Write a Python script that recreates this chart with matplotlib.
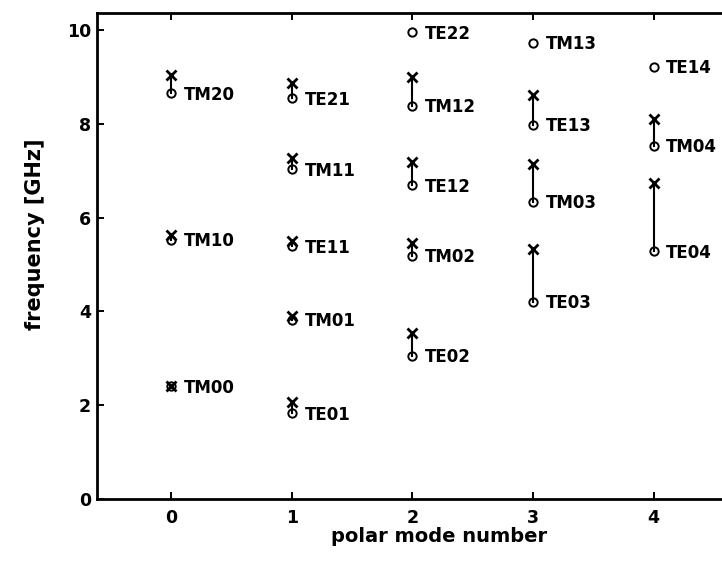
import numpy as np
import matplotlib.pyplot as plt

plt.rcParams['font.family'] = ['DejaVu Sans']
plt.rcParams['font.weight'] = 'bold'
plt.rcParams['axes.labelweight'] = 'bold'

# polar mode number, mode name, upper value (x marker), lower value (o marker)
polar = [0, 0, 0,
         1, 1, 1, 1, 1,
         2, 2, 2, 2, 2,
         3, 3, 3, 3,
         4, 4, 4]
modes = ['TM00', 'TM10', 'TM20',
         'TE01', 'TM01', 'TE11', 'TM11', 'TE21',
         'TE02', 'TM02', 'TE12', 'TM12', 'TE22',
         'TE03', 'TM03', 'TE13', 'TM13',
         'TE04', 'TM04', 'TE14']
f_cross = [2.40, 5.63, 9.03,
           2.07, 3.90, 5.51, 7.28, 8.88,
           3.54, 5.46, 7.19, 8.99, np.nan,
           5.33, 7.14, 8.61, np.nan,
           6.74, 8.11, np.nan]
f_circle = [2.40, 5.53, 8.65,
            1.83, 3.82, 5.39, 7.03, 8.54,
            3.05, 5.18, 6.69, 8.38, 9.95,
            4.20, 6.34, 7.98, 9.73,
            5.28, 7.53, 9.22]

fig = plt.figure(figsize=(7.22, 5.70), dpi=100)
ax = fig.add_axes([0.134, 0.1246, 0.888, 0.8524])

for n, name, fx, fo in zip(polar, modes, f_cross, f_circle):
    if not np.isnan(fx):
        ax.plot([n, n], [fo, fx], color='black', lw=1.5)
        ax.plot(n, fx, marker='x', color='black', ms=7, mew=2, ls='none')
    ax.plot(n, fo, marker='o', mfc='none', mec='black', ms=6, mew=1.4, ls='none')
    ax.annotate(name, (n, fo), xytext=(9, -1), textcoords='offset points',
                ha='left', va='center', fontsize=12)

ax.set_xlim(-0.62, 4.7)
ax.set_ylim(0, 10.36)
ax.set_xticks([0, 1, 2, 3, 4])
ax.set_yticks([0, 2, 4, 6, 8, 10])
ax.tick_params(direction='in', top=True, right=True, length=5, width=1.4,
               labelsize=12.5)
ax.tick_params(axis='x', pad=7)
ax.tick_params(axis='y', pad=4)
for s in ax.spines.values():
    s.set_linewidth(2)

ax.set_xlabel('polar mode number', fontsize=14)
ax.set_ylabel('frequency [GHz]', fontsize=15)
ax.xaxis.set_label_coords(0.534, -0.058)
ax.yaxis.set_label_coords(-0.08, 0.545)

fig.savefig('out.png', dpi=100)
